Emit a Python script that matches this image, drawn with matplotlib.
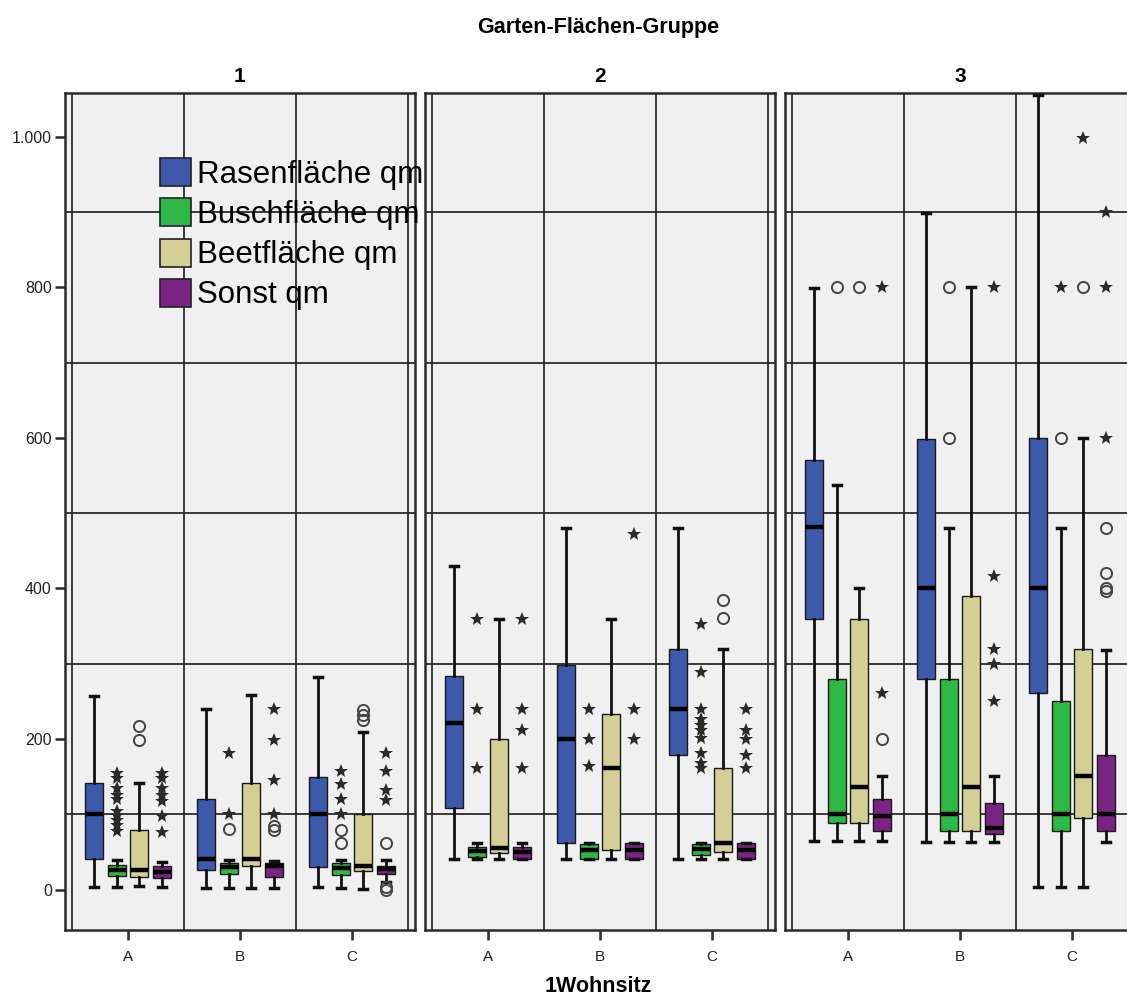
import matplotlib
matplotlib.use("Agg")
import matplotlib.pyplot as plt
from matplotlib.patches import Patch

plt.rcParams["font.family"] = ["Liberation Sans", "DejaVu Sans"]

# categories / groups
groups = ["1", "2", "3"]
wohnsitz = ["A", "B", "C"]
series_names = ["Rasenfläche qm", "Buschfläche qm", "Beetfläche qm", "Sonst qm"]
series_colors = ["#3E58AC", "#2EB848", "#D4CE97", "#7B2383"]

# five-number summaries [whislo, q1, med, q3, whishi]
# order: group 1 A,B,C / group 2 A,B,C / group 3 A,B,C
rasen_stats = [
    [4, 41, 100, 141, 257], [2, 26, 41, 120, 240], [4, 30, 100, 149, 282],
    [41, 109, 221, 284, 430], [41, 62, 200, 298, 480], [41, 179, 240, 319, 480],
    [64, 360, 481, 570, 799], [63, 280, 400, 599, 898], [4, 261, 400, 600, 1056],
]
busch_stats = [
    [3, 18, 26, 33, 40], [2, 21, 30, 36, 40], [2, 20, 29, 36, 40],
    [41, 43, 51, 56, 62], [41, 41, 53, 61, 62], [41, 46, 54, 61, 62],
    [65, 89, 101, 280, 538], [63, 78, 100, 280, 480], [4, 78, 100, 251, 480],
]
beet_stats = [
    [5, 17, 26, 79, 141], [2, 31, 41, 141, 258], [1, 25, 31, 100, 210],
    [41, 48, 55, 200, 360], [41, 52, 162, 233, 360], [41, 50, 62, 161, 319],
    [65, 89, 136, 360, 401], [63, 78, 136, 390, 800], [4, 95, 151, 319, 600],
]
sonst_stats = [
    [4, 16, 24, 31, 37], [2, 17, 31, 36, 38], [10, 21, 27, 32, 40],
    [41, 41, 50, 56, 62], [41, 41, 53, 62, 62], [41, 41, 53, 62, 62],
    [65, 78, 98, 120, 151], [63, 74, 82, 115, 151], [63, 78, 100, 179, 318],
]

# outliers (circles) and extremes (stars)
rasen_circles = [[], [], [], [], [], [], [], [], []]
rasen_stars = [[], [], [], [], [], [], [], [], []]
busch_circles = [[], [80], [79, 62], [], [], [], [800], [800, 600], [600]]
busch_stars = [
    [155, 148, 135, 126, 120, 104, 99, 92, 86, 78], [181, 100], [158, 140, 121, 100],
    [360, 240, 161], [240, 200, 164],
    [353, 289, 240, 227, 218, 212, 201, 181, 168, 161],
    [], [], [800],
]
beet_circles = [[217, 199], [], [238, 232, 225], [], [], [385, 361], [800], [], [800]]
beet_stars = [[], [], [], [], [], [], [], [], [998]]
sonst_circles = [[], [84, 79], [62, 4, 0], [], [], [], [200], [], [480, 420, 400, 397]]
sonst_stars = [
    [155, 148, 135, 126, 118, 98, 77], [240, 199, 145, 101], [181, 157, 132, 119],
    [360, 240, 212, 161], [472, 240, 200], [240, 212, 200, 179, 161],
    [800, 261], [800, 417, 320, 300, 250], [900, 800, 600],
]

all_stats = [rasen_stats, busch_stats, beet_stats, sonst_stats]
all_circles = [rasen_circles, busch_circles, beet_circles, sonst_circles]
all_stars = [rasen_stars, busch_stars, beet_stars, sonst_stars]

grid_vals = [100, 300, 500, 700, 900]
ytick_vals = [0, 200, 400, 600, 800, 1000]
ytick_labels = ["0", "200", "400", "600", "800", "1.000"]

offsets = [-0.3, -0.1, 0.1, 0.3]
line_col = "#2b2b2b"

fig = plt.figure(figsize=(11.27, 10), dpi=100)
W = 1127.0
lefts = [65, 425, 785]
axes = []
for gi, gname in enumerate(groups):
    ax = fig.add_axes([lefts[gi] / W, 0.070, 350 / W, 0.837])
    axes.append(ax)
    ax.set_facecolor("#F0F0F0")
    ax.set_xlim(0.4375, 3.5625)
    ax.set_ylim(-53.6, 1058)

    for g in grid_vals:
        ax.axhline(g, color=line_col, lw=1.3, zorder=1)
    for xv in [0.5, 1.5, 2.5, 3.5]:
        ax.axvline(xv, color=line_col, lw=1.3, zorder=1)

    for si in range(4):
        stats = []
        pos = []
        for ci in range(3):
            lo, q1, med, q3, hi = all_stats[si][gi * 3 + ci]
            stats.append({"whislo": lo, "q1": q1, "med": med, "q3": q3,
                          "whishi": hi, "fliers": []})
            pos.append(ci + 1 + offsets[si])
        ax.bxp(stats, positions=pos, widths=0.16, patch_artist=True,
               showfliers=False, capwidths=0.07,
               boxprops=dict(facecolor=series_colors[si], edgecolor="#1a1a1a", lw=1.0),
               medianprops=dict(color="#000000", lw=3.2),
               whiskerprops=dict(color="#111111", lw=2),
               capprops=dict(color="#111111", lw=2.5),
               zorder=3)
        for ci in range(3):
            x = ci + 1 + offsets[si]
            circ = all_circles[si][gi * 3 + ci]
            star = all_stars[si][gi * 3 + ci]
            if circ:
                ax.plot([x] * len(circ), circ, "o", ms=8, mfc="none",
                        mec="#444444", mew=1.4, zorder=4)
            if star:
                ax.plot([x] * len(star), star, "*", ms=10.5, color="#2a2a2a",
                        mew=0, zorder=4)

    for sp in ax.spines.values():
        sp.set_color(line_col)
        sp.set_linewidth(1.8)
    ax.set_xticks([1, 2, 3])
    ax.set_xticklabels(wohnsitz, fontsize=11, color="#222222")
    ax.tick_params(axis="x", length=7.5, width=1.8, color=line_col, pad=7)
    if gi == 0:
        ax.set_yticks(ytick_vals)
        ax.set_yticklabels(ytick_labels, fontsize=11.5, color="#222222")
        ax.tick_params(axis="y", length=7.5, width=1.8, color=line_col, pad=2)
    else:
        ax.set_yticks([])
    ax.set_title(gname, fontsize=15, fontweight="bold", pad=8)

handles = [Patch(facecolor=c, edgecolor="#222222", lw=1.2) for c in series_colors]
axes[0].legend(handles, series_names, loc="upper left", bbox_to_anchor=(0.27, 0.922),
               frameon=False, fontsize=22.5, handlelength=1.0, handleheight=1.0,
               handletextpad=0.2, labelspacing=0.27, borderpad=0, borderaxespad=0)

fig.text(0.531, 0.972, "Garten-Flächen-Gruppe", ha="center", va="center",
         fontsize=15.5, fontweight="bold")
fig.text(0.531, 0.014, "1Wohnsitz", ha="center", va="center",
         fontsize=15.5, fontweight="bold")

fig.savefig("out.png", dpi=100)
